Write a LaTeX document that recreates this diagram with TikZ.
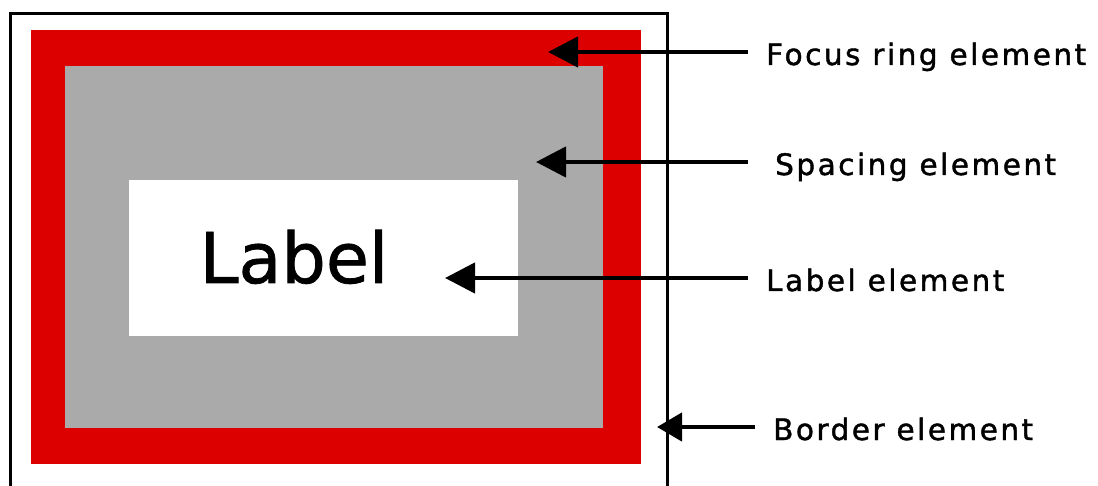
\documentclass[tikz,border=0pt]{standalone}
\usepackage{fontspec}
\setmainfont{DejaVu Sans}
\newfontfamily\callfont[LetterSpace=8.5,FakeBold=1.4]{DejaVu Sans}
\newfontfamily\bigfont[FakeBold=1]{DejaVu Sans}
\usetikzlibrary{arrows.meta}
\definecolor{ringred}{RGB}{221,0,0}
\definecolor{spacegray}{RGB}{170,170,170}
\tikzset{
  box/.style={inner sep=0pt, outer sep=0pt, draw=none},
  callout/.style={anchor=base west, inner ysep=0pt, inner xsep=18pt, font=\callfont\fontsize{29.5}{32}\selectfont, text=black},
  pointer/.style={line width=4.5pt, -{Triangle[length=30pt,width=30pt]}},
  smallpointer/.style={line width=4.5pt, -{Triangle[length=25pt,width=28pt]}},
}
\begin{document}
\begin{tikzpicture}[x=1pt,y=-1pt]
\useasboundingbox (0,0) rectangle (1098,486);
\fill[white] (0,0) rectangle (1098,486);
\begin{scope}
\clip (0,0) rectangle (1098,486);
\draw[line width=3pt] (10.5,500) -- (10.5,13.5) -- (667.5,13.5) -- (667.5,500);
\end{scope}
\node[box, fill=ringred, minimum width=610pt, minimum height=434pt, anchor=north west] (ring) at (31,30) {};
\node[box, fill=spacegray, minimum width=538pt, minimum height=362pt, anchor=north west] (spacing) at (65,66) {};
\node[box, fill=white, minimum width=389pt, minimum height=156pt, anchor=north west] (labelbox) at (129,180) {};
\node[anchor=base, inner sep=0pt, font=\bigfont\fontsize{70}{80}\selectfont] (labeltext) at (294,283) {Label};

\coordinate (ftip) at (548,52);
\coordinate (stip) at (536,162);
\coordinate (ltip) at (445,278);
\coordinate (btip) at (657,427);

\node[callout] (ftext) at (748,65) {Focus ring element};
\node[callout, inner xsep=27pt] (stext) at (748,175) {Spacing element};
\node[callout] (ltext) at (748,291) {Label element};
\node[callout] (btext) at (755,440) {Border element};

\draw[pointer] (ftext.west |- ftip) -- (ftip);
\draw[pointer] (stext.west |- stip) -- (stip);
\draw[pointer] (ltext.west |- ltip) -- (ltip);
\draw[smallpointer] (btext.west |- btip) -- (btip);
\end{tikzpicture}
\end{document}
